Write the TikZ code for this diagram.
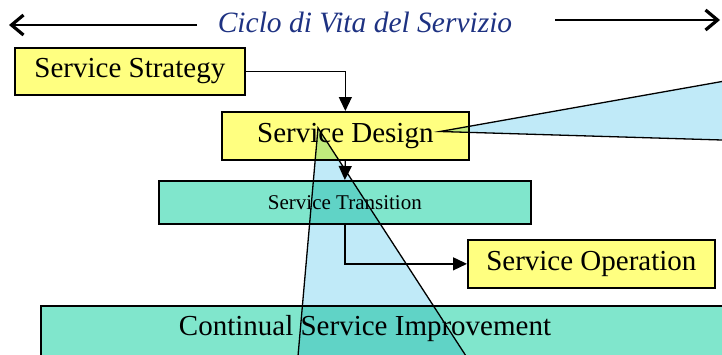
\documentclass[tikz,border=0pt]{standalone}
\usepackage{fontspec}
\setmainfont{Liberation Serif}
\usetikzlibrary{arrows.meta}
\definecolor{boxyellow}{HTML}{FFFF80}
\definecolor{boxteal}{HTML}{80E6CC}
\definecolor{wedgeblue}{HTML}{C0EAF8}
\definecolor{titleblue}{HTML}{1E3282}
\begin{document}
\begin{tikzpicture}[x=1pt,y=-1pt,
  basebox/.style={draw=black, line width=1.7pt, inner sep=0pt, anchor=north west},
  ybox/.style={basebox, fill=boxyellow, font=\fontsize{29}{32}\selectfont},
  tbox/.style={basebox, fill=boxteal},
  conn/.style={line width=1.3pt, -{Triangle[length=14pt,width=13pt]}},
  lifearrow/.style={line width=1.4pt, -{Straight Barb[length=12pt,width=20pt,line width=3.2pt]}},
  wedge/.style={fill=wedgeblue, blend mode=multiply},
  wedgeline/.style={line width=1.3pt}]
\useasboundingbox (0,0) rectangle (722,354);
\clip (0,0) rectangle (722,354);
% title
\node[font=\fontsize{29.5}{32}\selectfont\itshape, text=titleblue, inner sep=0pt] (title) at (365,22) {Ciclo di Vita del Servizio};
\coordinate (lstart) at (197,25);
\coordinate (lend) at (9,25);
\coordinate (rstart) at (555,20);
\coordinate (rend) at (720,20);
\draw[lifearrow] (lstart) -- (lend);
\draw[lifearrow] (rstart) -- (rend);
% boxes
\node[ybox, minimum width=230pt, minimum height=47pt] (strat) at (14,47) {Service Strategy};
\node[ybox, minimum width=247pt, minimum height=48pt] (design) at (221,111) {Service Design};
\node[tbox, minimum width=372pt, minimum height=43pt, font=\fontsize{21}{24}\selectfont] (trans) at (158,180) {Service Transition};
\node[ybox, minimum width=247pt, minimum height=48pt] (oper) at (467,239) {Service Operation};
\node[tbox, minimum width=700pt, minimum height=60pt] (csi) at (40,305) {};
\node[font=\fontsize{29}{32}\selectfont, inner sep=0pt] (csilabel) at (365,329) {Continual Service Improvement};
% connectors
\draw[conn] (strat.east) -| (design.north);
\draw[conn] (design.south) -- (trans.north);
\draw[conn] (trans.south) |- (oper.west);
% callout wedges
\coordinate (wa) at (440,131.5);
\coordinate (wat) at (722,81.5);
\coordinate (wab) at (722,140);
\fill[wedge] (wa) -- (wat) -- (wab) -- cycle;
\draw[wedgeline] (wat) -- (wa) -- (wab);
\coordinate (wb) at (318,128);
\coordinate (wbl) at (298,356);
\coordinate (wbr) at (466,356);
\fill[wedge] (wb) -- (wbl) -- (wbr) -- cycle;
\draw[wedgeline] (wbl) -- (wb) -- (wbr);
\end{tikzpicture}
\end{document}
